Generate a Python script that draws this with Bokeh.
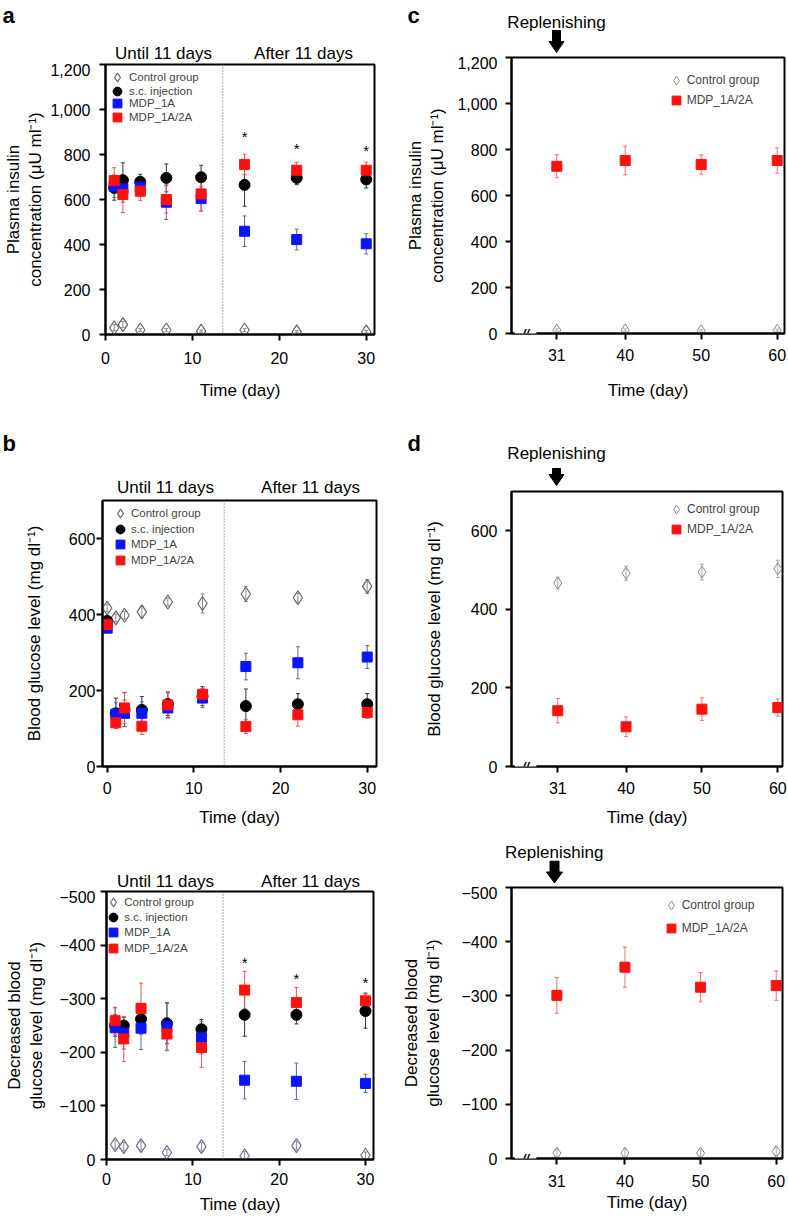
from bokeh.plotting import figure
from bokeh.layouts import column, row
from bokeh.models import (Range1d, FixedTicker, NumeralTickFormatter, Span, Label,
                          Whisker, TeeHead, ColumnDataSource, Legend, LegendItem)
from bokeh.core.properties import value
from bokeh.embed import file_html
from bokeh.resources import INLINE

FONT = "Liberation Sans"

# ---------------- data ----------------
# (a) plasma insulin, until / after 11 days
days_a = [1, 2, 4, 7, 11, 16, 22, 30]
ins_ctrl = [30, 44, 20, 20, 15, 20, 12, 12]
ins_ctrl_err = [14, 14, 6, 6, 5, 6, 5, 5]
ins_sc = [652, 686, 679, 696, 699, 665, 696, 689]
ins_sc_err = [55, 77, 33, 62, 53, 95, 30, 38]
ins_1a = [659, 648, 655, 588, 604, 459, 422, 403]
ins_1a_err = [50, 60, 40, 77, 55, 68, 46, 45]
ins_2a = [684, 622, 637, 600, 625, 756, 730, 730]
ins_2a_err = [57, 80, 42, 60, 77, 45, 36, 36]
star_days = [16, 22, 30]
ins_star = [881, 825, 819]

# (b) blood glucose level
days_b = [0, 1, 2, 4, 7, 11, 16, 22, 30]
glu_ctrl = [417, 391, 398, 407, 433, 429, 454, 444, 474]
glu_ctrl_err = [10, 10, 10, 15, 10, 25, 20, 12, 18]
glu_sc = [383, 140, 150, 149, 164, 185, 159, 164, 164]
glu_sc_err = [10, 40, 45, 35, 30, 25, 45, 28, 28]
glu_1a = [364, 138, 140, 140, 154, 180, 263, 273, 288]
glu_1a_err = [10, 30, 35, 30, 25, 25, 35, 42, 30]
glu_2a = [374, 115, 154, 106, 162, 190, 105, 136, 142]
glu_2a_err = [10, 15, 40, 22, 35, 15, 18, 30, 15]

# (b, lower) decreased blood glucose level
days_e = [1, 2, 4, 7, 11, 16, 22, 30]
dec_ctrl = [-28, -24, -26, -13, -24, -7, -26, -8]
dec_ctrl_err = [8, 8, 8, 6, 8, 8, 8, 6]
dec_sc = [-250, -250, -262, -254, -243, -270, -270, -277]
dec_sc_err = [20, 15, 28, 38, 18, 40, 17, 32]
dec_1a = [-246, -236, -245, -248, -227, -148, -146, -142]
dec_1a_err = [37, 30, 40, 45, 30, 35, 34, 17]
dec_2a = [-259, -225, -282, -234, -209, -316, -293, -296]
dec_2a_err = [25, 42, 47, 30, 37, 35, 28, 15]
dec_star = [-368, -337, -331]

# (c), (d), lower right: after replenishing
days_r = [31, 40, 50, 60]
rins_ctrl = [15, 15, 12, 14]
rins_ctrl_err = [5, 5, 5, 5]
rins_2a = [727, 752, 735, 752]
rins_2a_err = [50, 62, 42, 55]
rglu_ctrl = [467, 492, 495, 503]
rglu_ctrl_err = [15, 18, 20, 22]
rglu_2a = [142, 101, 146, 150]
rglu_2a_err = [31, 25, 29, 22]
rdec_ctrl = [-10, -10, -10, -13]
rdec_ctrl_err = [7, 7, 6, 7]
rdec_2a = [-301, -353, -316, -319]
rdec_2a_err = [33, 37, 27, 27]

ticks_x_a = [0, 10, 20, 30]
ticks_x_r = [31, 40, 50, 60]
ticks_ins = [0, 200, 400, 600, 800, 1000, 1200]
ticks_glu = [0, 200, 400, 600]
ticks_dec = [0, -100, -200, -300, -400, -500]
dec_labels = {0: "0", -100: "\u2212100", -200: "\u2212200", -300: "\u2212300",
              -400: "\u2212400", -500: "\u2212500"}

BLUE = "#0a14ff"
RED = "#ff1010"
INS_LABEL = "Plasma insulin\nconcentration (\u03bcU ml\u207b\u00b9)"
GLU_LABEL = "Blood glucose level (mg dl\u207b\u00b9)"
DEC_LABEL = "Decreased blood\nglucose level (mg dl\u207b\u00b9)"
NB = "\u00a0"


def base_fig(w, h, bl, br, bt, bb, xr, yr):
    p = figure(width=w, height=h, x_range=Range1d(*xr), y_range=Range1d(*yr),
               output_backend="svg", toolbar_location=None, frame_align=False,
               min_border_left=bl, min_border_right=br,
               min_border_top=bt, min_border_bottom=bb)
    p.xgrid.visible = False
    p.ygrid.visible = False
    p.outline_line_color = "black"
    p.outline_line_width = 2
    p.outline_line_alpha = 1
    p.background_fill_color = "white"
    p.border_fill_color = "white"
    return p


def header(w, h):
    """Strip above a panel for the headings; its scale is in pixels."""
    p = figure(width=w, height=h, x_range=Range1d(0, w), y_range=Range1d(h, 0),
               output_backend="svg", toolbar_location=None, frame_align=False,
               min_border=0, min_border_left=0, min_border_right=0,
               min_border_top=0, min_border_bottom=0)
    p.xaxis.visible = False
    p.yaxis.visible = False
    p.xgrid.visible = False
    p.ygrid.visible = False
    p.outline_line_color = None
    p.background_fill_color = "white"
    p.border_fill_color = "white"
    return p


def head_text(p, xs, ys, texts, size="17px", bold=False, align="center"):
    p.text(x=xs, y=ys, text=texts, text_font=value(FONT),
           text_font_size=value(size),
           text_font_style="bold" if bold else "normal",
           text_align=align, text_baseline="alphabetic", text_color="black")


def head_arrow(p, cx, top, tip, shaft_w=8, head_w=15, head_h=11):
    yb = tip - head_h
    xs = [cx - shaft_w / 2, cx + shaft_w / 2, cx + shaft_w / 2, cx + head_w / 2,
          cx, cx - head_w / 2, cx - shaft_w / 2]
    ys = [top, top, yb, yb, tip, yb, yb]
    p.patch(x=xs, y=ys, fill_color="black", line_color="black", line_width=1)


def style_axes(p, xticks, yticks, xlabel, ylabel, xl_st, xa_st, yl_st, ya_st,
               y_fmt=None, y_over=None):
    xa = p.xaxis[0]
    ya = p.yaxis[0]
    xa.ticker = FixedTicker(ticks=xticks)
    ya.ticker = FixedTicker(ticks=yticks)
    for ax in (xa, ya):
        ax.axis_line_width = 2
        ax.axis_line_color = "black"
        ax.major_tick_line_width = 2
        ax.major_tick_line_color = "black"
        ax.major_tick_out = 6
        ax.major_tick_in = 0
        ax.minor_tick_line_color = None
        ax.major_label_text_font = FONT
        ax.major_label_text_font_size = "16px"
        ax.major_label_text_color = "black"
        ax.axis_label_text_font = FONT
        ax.axis_label_text_font_size = "17px"
        ax.axis_label_text_font_style = "normal"
        ax.axis_label_text_color = "black"
    xa.axis_label = xlabel
    ya.axis_label = ylabel
    xa.major_label_standoff = xl_st
    xa.axis_label_standoff = xa_st
    ya.major_label_standoff = yl_st
    ya.axis_label_standoff = ya_st
    if y_fmt is not None:
        ya.formatter = y_fmt
    if y_over is not None:
        ya.major_label_overrides = y_over


def add_series(p, xs, ys, errs, marker, size, fill, line, errc, lw=1.0,
               fill_alpha=1.0):
    src = ColumnDataSource(dict(
        x=xs, y=ys,
        upper=[y + e for y, e in zip(ys, errs)],
        lower=[y - e for y, e in zip(ys, errs)]))
    w = Whisker(source=src, base="x", upper="upper", lower="lower",
                line_color=errc, line_width=1,
                upper_head=TeeHead(size=4, line_color=errc, line_width=1),
                lower_head=TeeHead(size=4, line_color=errc, line_width=1),
                level="underlay")
    p.add_layout(w)
    r = p.scatter("x", "y", source=src, marker=marker, size=size,
                  fill_color=fill, fill_alpha=fill_alpha, line_color=line,
                  line_width=lw)
    return r


def add_legend(p, items, vx, vys, standoff, fsize):
    # one single-entry legend per row, so the row pitch can follow the original
    for (lab, r), vy in zip(items, vys):
        lg = Legend(items=[LegendItem(label=value(lab), renderers=[r])],
                    location=(vx, vy), orientation="vertical",
                    glyph_width=22, glyph_height=22, label_height=22,
                    spacing=0, padding=0, margin=0, label_standoff=standoff,
                    label_text_font=FONT, label_text_font_size=fsize,
                    background_fill_alpha=0, border_line_alpha=0)
        p.add_layout(lg)


def divider(p):
    p.add_layout(Span(location=13.5, dimension="height", line_color="#555555",
                      line_width=1, line_dash="1 2"))


def axis_break(p):
    p.add_layout(Label(x=14, y=0, x_units="screen", y_units="screen",
                       text=NB * 2 + "//" + NB * 2, text_font=FONT,
                       text_font_size="13px", text_font_style="bold italic",
                       text_align="center", text_baseline="middle",
                       text_color="black", background_fill_color="white"))


def stars(p, xs, ys):
    p.text(x=xs, y=ys, text=["*"] * len(xs), text_font=value(FONT),
           text_font_size=value("15px"), text_align="center",
           text_baseline="middle", text_color="black")


def four_groups(p, xs, c, ce, s, se, b, be, r, re_, ctrl_line="#666666"):
    r0 = add_series(p, xs, c, ce, "diamond", 14, "white", ctrl_line, "#8a8a8a",
                    lw=1.2, fill_alpha=0)
    r1 = add_series(p, xs, s, se, "circle", 11, "black", "black", "#333333")
    r2 = add_series(p, xs, b, be, "square", 10, BLUE, BLUE, "#5a6aa0")
    r3 = add_series(p, xs, r, re_, "square", 10, RED, RED, "#e05858")
    return [("Control group", r0), ("s.c. injection", r1),
            ("MDP_1A", r2), ("MDP_1A/2A", r3)]


def two_groups(p, xs, c, ce, r, re_):
    r0 = add_series(p, xs, c, ce, "diamond", 12, "white", "#8a8a8a", "#aaaaaa",
                    lw=1.0, fill_alpha=0)
    r3 = add_series(p, xs, r, re_, "square", 10, RED, RED, "#f07070")
    return [("Control group", r0), ("MDP_1A/2A", r3)]


# ================= row 1 (page y 0..403) =================
# ---------------- panel a ----------------
ha = header(394, 63)
head_text(ha, [2], [15], ["a"], size="22px", bold=True, align="left")
head_text(ha, [163, 303], [53.3, 53.3], ["Until 11 days", "After 11 days"])
pa = base_fig(394, 340, 105, 20, 1, 69, (0, 30.95), (0, 1200))
style_axes(pa, ticks_x_a, ticks_ins, "Time (day)", INS_LABEL, 11, 14, 9, 2,
           y_fmt=NumeralTickFormatter(format="0,0"))
divider(pa)
items = four_groups(pa, days_a, ins_ctrl, ins_ctrl_err, ins_sc, ins_sc_err,
                    ins_1a, ins_1a_err, ins_2a, ins_2a_err)
stars(pa, star_days, ins_star)
add_legend(pa, items, 1, [246.3, 232.3, 219.7, 206.3], 1, "11.5px")

# ---------------- panel c ----------------
hc = header(394, 56)
head_text(hc, [13], [15], ["c"], size="22px", bold=True, align="left")
head_text(hc, [162], [21.7], ["Replenishing"])
head_arrow(hc, 162, 30, 52)
pc = base_fig(394, 347, 117, 4, 1, 70, (25.04, 60.96), (0, 1200))
style_axes(pc, ticks_x_r, ticks_ins, "Time (day)", INS_LABEL, 9, 17, 8, 7,
           y_fmt=NumeralTickFormatter(format="0,0"))
items = two_groups(pc, days_r, rins_ctrl, rins_ctrl_err, rins_2a, rins_2a_err)
add_legend(pc, items, 153.7, [242, 222], 0, "12px")
axis_break(pc)

# ================= row 2 (page y 403..830) =================
# ---------------- panel b ----------------
hb = header(394, 96)
head_text(hb, [2], [40.3], ["b"], size="22px", bold=True, align="left")
head_text(hb, [165, 310], [84.3, 84.3], ["Until 11 days", "After 11 days"])
pb = base_fig(394, 331, 102, 18, 1, 64, (-0.54, 31.07), (0, 700))
style_axes(pb, ticks_x_a, ticks_glu, "Time (day)", GLU_LABEL, 9, 11, 1, 22)
divider(pb)
items = four_groups(pb, days_b, glu_ctrl, glu_ctrl_err, glu_sc, glu_sc_err,
                    glu_1a, glu_1a_err, glu_2a, glu_2a_err)
add_legend(pb, items, 7, [242, 226.3, 210.7, 195.3], 0, "11.5px")

# ---------------- panel d ----------------
hd = header(394, 87)
head_text(hd, [13], [40.3], ["d"], size="22px", bold=True, align="left")
head_text(hd, [162], [50.3], ["Replenishing"])
head_arrow(hd, 162, 65, 82)
pd = base_fig(394, 340, 117, 6, 1, 64, (24.9, 60.62), (0, 700))
style_axes(pd, ticks_x_r, ticks_glu, "Time (day)", GLU_LABEL, 9, 11, 8, 24)
items = two_groups(pd, days_r, rglu_ctrl, rglu_ctrl_err, rglu_2a, rglu_2a_err)
add_legend(pd, items, 154, [245.7, 226], 0, "12px")
axis_break(pd)

# ================= row 3 (page y 830..1217) =================
# ---------------- lower left ----------------
he = header(394, 60)
head_text(he, [165, 310], [50.7, 50.7], ["Until 11 days", "After 11 days"])
pe = base_fig(394, 327, 106, 21, 1, 58, (0, 30.93), (0, -500))
style_axes(pe, ticks_x_a, ticks_dec, "Time (day)", DEC_LABEL, 7, 7, 5, 10,
           y_over=dec_labels)
divider(pe)
items = four_groups(pe, days_e, dec_ctrl, dec_ctrl_err, dec_sc, dec_sc_err,
                    dec_1a, dec_1a_err, dec_2a, dec_2a_err, ctrl_line="#74699a")
stars(pe, star_days, dec_star)
add_legend(pe, items, -3.7, [246.3, 231.3, 216.3, 199.7], 0, "11.5px")

# ---------------- lower right ----------------
hf = header(394, 56)
head_text(hf, [159.7], [21.7], ["Replenishing"])
head_arrow(hf, 160, 30.7, 52.5, shaft_w=9, head_w=16)
pf = base_fig(394, 331, 117, 6, 1, 59, (25.0, 60.83), (0, -500))
style_axes(pf, ticks_x_r, ticks_dec, "Time (day)", DEC_LABEL, 10, 3, 8, 15,
           y_over=dec_labels)
items = two_groups(pf, days_r, rdec_ctrl, rdec_ctrl_err, rdec_2a, rdec_2a_err)
add_legend(pf, items, 148.7, [242, 218.7], 0, "12px")
axis_break(pf)

layout = column(
    row(column(ha, pa), column(hc, pc)),
    row(column(hb, pb), column(hd, pd)),
    row(column(he, pe), column(hf, pf)),
)
open("out.html", "w").write(file_html(layout, INLINE))
